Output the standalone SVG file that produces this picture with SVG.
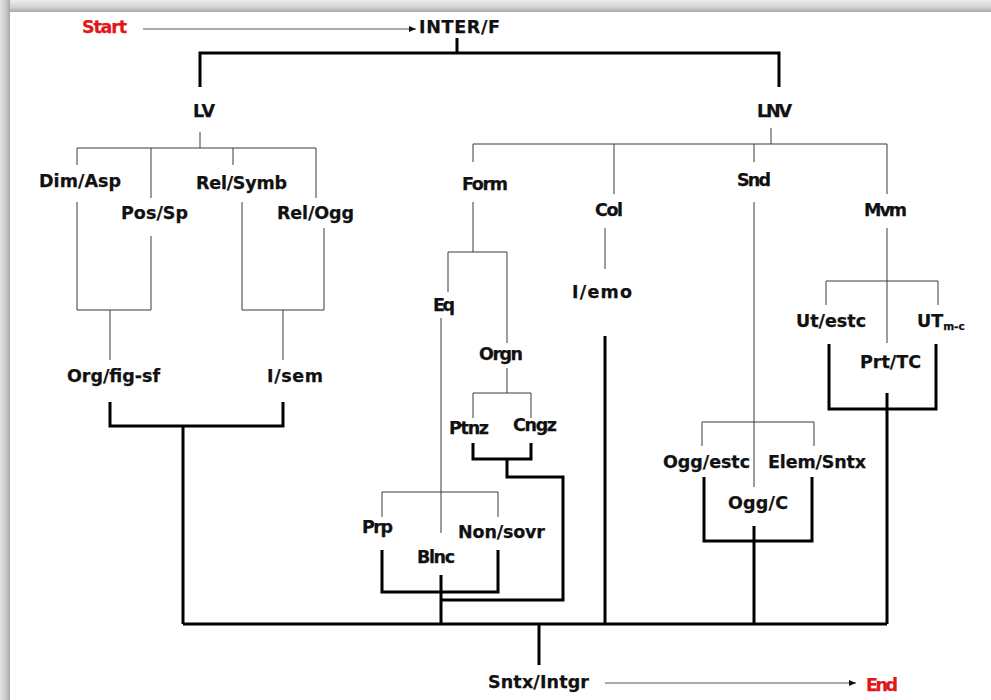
<svg xmlns="http://www.w3.org/2000/svg" width="991" height="700" viewBox="0 0 991 700">
<defs>
<linearGradient id="gTop" x1="0" y1="0" x2="0" y2="1">
<stop offset="0" stop-color="#ececec"/><stop offset="0.6" stop-color="#d2d2d2"/><stop offset="1" stop-color="#a9a9a9"/>
</linearGradient>
<linearGradient id="gLeft" x1="0" y1="0" x2="1" y2="0">
<stop offset="0" stop-color="#e2e2e2"/><stop offset="0.6" stop-color="#cacaca"/><stop offset="1" stop-color="#a6a6a6"/>
</linearGradient>
<marker id="arr" markerWidth="8" markerHeight="8" refX="7" refY="4" orient="auto" markerUnits="userSpaceOnUse">
<path d="M0,1 L7,4 L0,7 Z" fill="#111"/>
</marker>
<style>
.t{font-family:"DejaVu Sans","Verdana",sans-serif;font-weight:bold;font-size:17.5px;fill:#111;stroke:#111;stroke-width:0.25}
.r{fill:#e3161b;stroke:#e3161b}
.sub{font-size:10.5px}
.thin{fill:none;stroke:#3a3a3a;stroke-width:1}
.thick{fill:none;stroke:#000;stroke-width:3;stroke-linejoin:miter}
.arrow{fill:none;stroke:#555;stroke-width:1.2}
</style>
</defs>
<rect x="0" y="0" width="991" height="700" fill="#fff"/>
<rect x="0" y="0" width="991" height="12" fill="url(#gTop)"/>
<rect x="0" y="0" width="10" height="700" fill="url(#gLeft)"/>

<g id="connectors">
<path class="thin" d="M200 132V148M77 148H316M77 148V165M151 148V198M233 148V165M316 148V198"/>
<path class="thin" d="M77 202V310H151V236M110 310V360"/>
<path class="thin" d="M242 202V310H324V228M283 310V360"/>
<path class="thin" d="M771 128V144M473 144H887M473 144V162M614 144V194M754 144V162M887 144V194"/>
<path class="thin" d="M473 202V252M448 252H507M448 252V292M507 252V343"/>
<path class="thin" d="M441 318V533"/>
<path class="thin" d="M507 368V393M473 393H531M473 393V418M531 393V418"/>
<path class="thin" d="M382 517V492H498V517"/>
<path class="thin" d="M605 228V269"/>
<path class="thin" d="M754 202V487M702 446V422H814V446"/>
<path class="thin" d="M887 228V343M826 305V281H938V305"/>

<path class="thick" d="M457 38V53M200 87V53H779V87"/>
<path class="thick" d="M110 402V426H283V402M183 426V624"/>
<path class="thick" d="M473 443V459H531V443M507 459V477H563V600H441"/>
<path class="thick" d="M382 550V592H498V550M441 575V624"/>
<path class="thick" d="M605 336V624"/>
<path class="thick" d="M704 477V541H812V477M754 526V624"/>
<path class="thick" d="M829 344V409H936V344M887 393V624"/>
<path class="thick" d="M183 624H887M539 624V665"/>

<path class="arrow" d="M143 29H416" marker-end="url(#arr)"/>
<path class="arrow" d="M605 683H856" marker-end="url(#arr)"/>
</g>

<g id="start"><text class="t r" x="82" y="33" textLength="45">Start</text></g>
<g id="inter"><text class="t" x="419" y="33" textLength="81">INTER/F</text></g>
<g id="lv"><text class="t" x="193" y="117" textLength="22">LV</text></g>
<g id="lnv"><text class="t" x="757" y="117" textLength="35">LNV</text></g>
<g id="dimasp"><text class="t" x="39" y="187" textLength="82">Dim/Asp</text></g>
<g id="relsymb"><text class="t" x="196" y="189" textLength="91">Rel/Symb</text></g>
<g id="possp"><text class="t" x="121" y="219" textLength="67">Pos/Sp</text></g>
<g id="relogg"><text class="t" x="277" y="219" textLength="77">Rel/Ogg</text></g>
<g id="orgfig"><text class="t" x="67" y="382" textLength="93">Org/fig-sf</text></g>
<g id="isem"><text class="t" x="267" y="382" textLength="56">I/sem</text></g>
<g id="form"><text class="t" x="462" y="190" textLength="46">Form</text></g>
<g id="col"><text class="t" x="595" y="216" textLength="28">Col</text></g>
<g id="snd"><text class="t" x="737" y="186" textLength="34">Snd</text></g>
<g id="mvm"><text class="t" x="864" y="216" textLength="43">Mvm</text></g>
<g id="eq"><text class="t" x="433" y="311" textLength="22">Eq</text></g>
<g id="orgn"><text class="t" x="479" y="360" textLength="44">Orgn</text></g>
<g id="iemo"><text class="t" x="572" y="298" textLength="60">I/emo</text></g>
<g id="ptnz"><text class="t" x="449" y="434" textLength="40">Ptnz</text></g>
<g id="cngz"><text class="t" x="513" y="431" textLength="44">Cngz</text></g>
<g id="prp"><text class="t" x="362" y="533" textLength="31">Prp</text></g>
<g id="nonsovr"><text class="t" x="458" y="538" textLength="87">Non/sovr</text></g>
<g id="blnc"><text class="t" x="417" y="563" textLength="38">Blnc</text></g>
<g id="utestc"><text class="t" x="796" y="327" textLength="70">Ut/estc</text></g>
<g id="utmc"><text class="t" x="917" y="327">UT<tspan class="sub" dy="3">m-c</tspan></text></g>
<g id="prttc"><text class="t" x="860" y="368" textLength="61">Prt/TC</text></g>
<g id="oggestc"><text class="t" x="663" y="468" textLength="87">Ogg/estc</text></g>
<g id="elemsntx"><text class="t" x="768" y="468" textLength="98">Elem/Sntx</text></g>
<g id="oggc"><text class="t" x="728" y="509" textLength="60">Ogg/C</text></g>
<g id="sntxintgr"><text class="t" x="488" y="688" textLength="101">Sntx/Intgr</text></g>
<g id="end"><text class="t r" x="866" y="691" textLength="32">End</text></g>
</svg>
